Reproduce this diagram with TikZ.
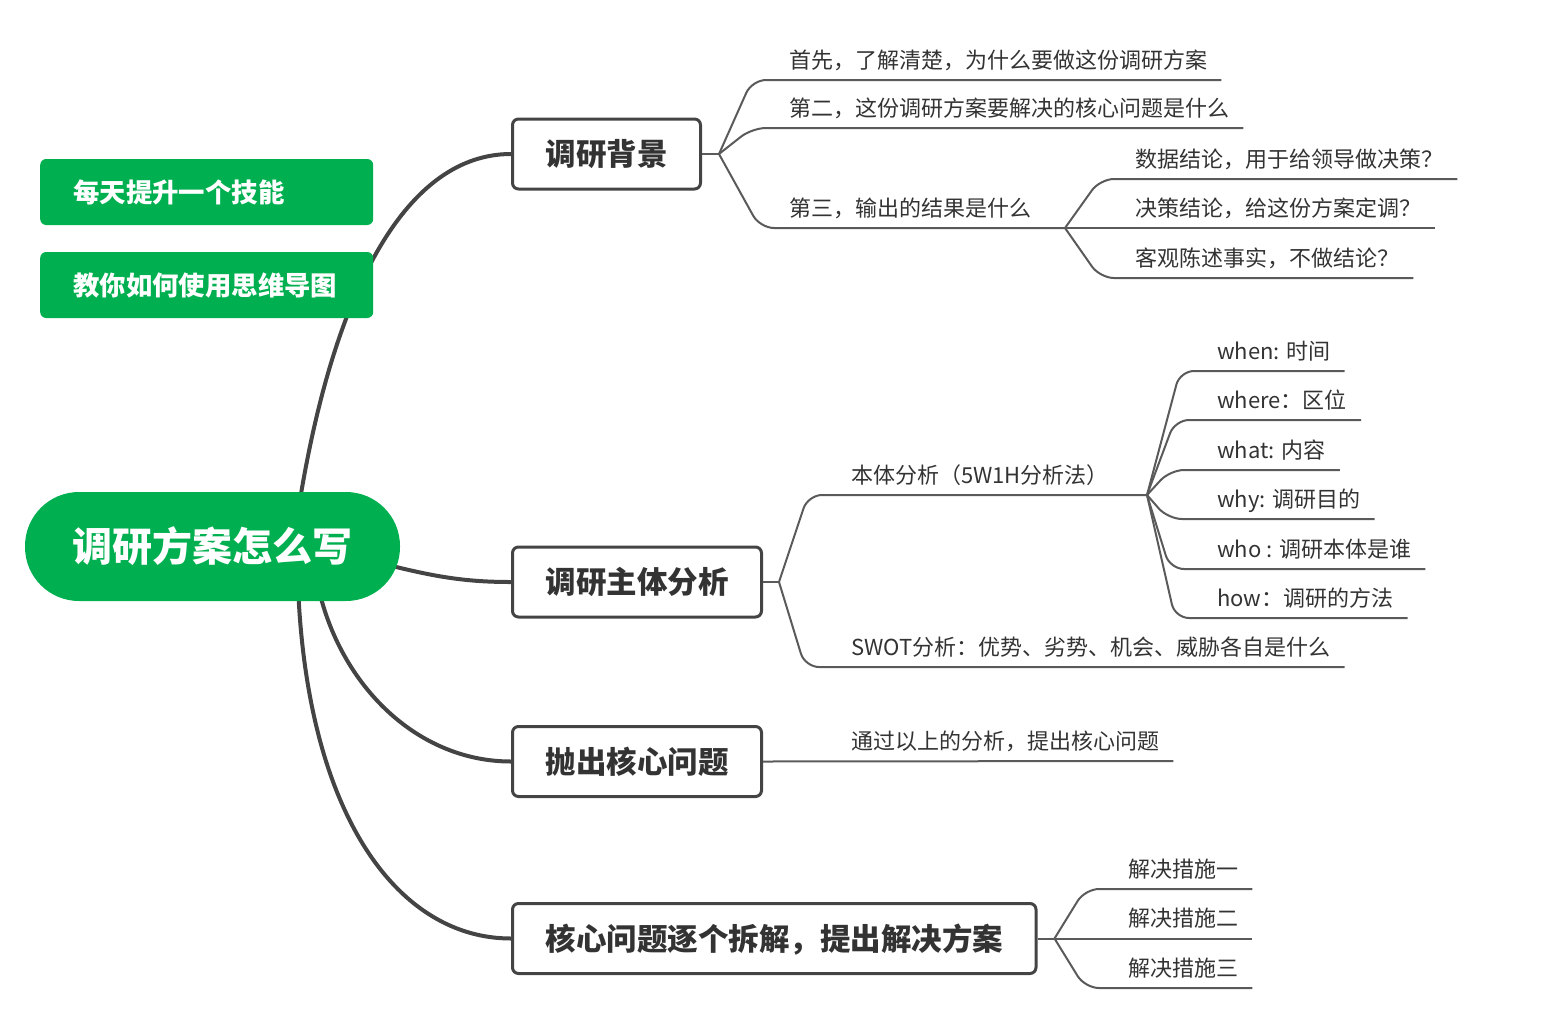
\documentclass[tikz,border=0pt]{standalone}
\usepackage{fontspec}
\setmainfont{Noto Sans CJK SC}
\usetikzlibrary{backgrounds}
\definecolor{mmgreen}{RGB}{0,176,80}
\definecolor{mmdark}{RGB}{51,51,51}
\definecolor{mmline}{RGB}{68,68,68}
\definecolor{mmsub}{RGB}{90,90,90}

\begin{document}
\begin{tikzpicture}[x=1pt,y=1pt]
	\tikzset{
		root node/.style={rectangle, rounded corners=54pt, fill=mmgreen, text=white, minimum width=375pt, minimum height=109pt, font=\fontsize{40}{48}\selectfont\bfseries, text height=34.4pt, text depth=4pt},
		tag node/.style={rectangle, rounded corners=6pt, fill=mmgreen, text=white, anchor=west, minimum height=66pt, text width=267pt, inner xsep=33pt, align=left, font=\fontsize{26.4}{32}\selectfont\bfseries, text height=22.7pt, text depth=2.6pt},
		topic node/.style={rectangle, rounded corners=6pt, draw=mmline, line width=3pt, fill=white, text=mmdark, anchor=west, minimum height=70pt, inner xsep=33pt, font=\fontsize{30.5}{36}\selectfont\bfseries, text height=26.2pt, text depth=3pt},
		leaf/.style={anchor=south west, inner xsep=14pt, inner ysep=2.5pt, text=mmdark, font=\fontsize{22}{26}\selectfont, text height=16pt, text depth=9pt},
		branch/.style={line width=4pt, mmline},
		stub/.style={line width=2pt, mmsub},
		sub/.style={line width=2pt, mmsub, rounded corners=14pt}
	}
	\useasboundingbox (0,0) rectangle (1548,-1021);

	% Central topic and tags
	\node[root node] (root) at (212.5,-546.5) {调研方案怎么写};
	\node[tag node] (tagA) at (40,-192) {每天提升一个技能};
	\node[tag node] (tagB) at (40,-285) {教你如何使用思维导图};

	% Main topics
	\node[topic node] (bg) at (511,-154) {调研背景};
	\node[topic node] (body) at (511,-582) {调研主体分析};
	\node[topic node] (core) at (511,-761.5) {抛出核心问题};
	\node[topic node] (solve) at (511,-938.5) {核心问题逐个拆解，提出解决方案};

	\begin{scope}[on background layer]
		\draw[branch] ([xshift=88pt,yshift=-5pt]root.north) .. controls (336,-285) and (408,-154) .. (bg.west);
		\draw[branch] ([xshift=-10pt,yshift=-19pt]root.east) .. controls (440,-578) and (470,-582) .. (body.west);
		\draw[branch] ([xshift=108pt,yshift=5pt]root.south) .. controls (345,-690) and (420,-761.5) .. (core.west);
		\draw[branch] ([xshift=86pt,yshift=5pt]root.south) .. controls (310,-820) and (400,-938.5) .. (solve.west);
	\end{scope}

	% Background
	\coordinate (fA) at ([xshift=17pt]bg.east);
	\coordinate (fC) at (1065,-228);
	\node[leaf] (bg1) at (775,-80) {首先，了解清楚，为什么要做这份调研方案};
	\node[leaf] (bg2) at (775,-128) {第二，这份调研方案要解决的核心问题是什么};
	\node[leaf] (bg3) at (775,-228) {第三，输出的结果是什么};
	\draw[stub] (bg.east) -- (fA);
	\foreach \n in {bg1, bg2}
		\draw[sub] (fA) -- ([xshift=-23pt]\n.south west) -- (\n.south east);
	\draw[sub] (fA) -- ([xshift=-15pt]bg3.south west) -- (fC);

	\node[leaf] (out1) at (1121,-179) {数据结论，用于给领导做决策？};
	\node[leaf] (out2) at (1121,-228) {决策结论，给这份方案定调？};
	\node[leaf] (out3) at (1121,-278) {客观陈述事实，不做结论？};
	\draw[sub] (fC) -- ([xshift=-21pt]out1.south west) -- (out1.south east);
	\draw[sub] (fC) -- (out2.south east);
	\draw[sub] (fC) -- ([xshift=-21pt]out3.south west) -- (out3.south east);

	% Subject analysis
	\coordinate (fB) at ([xshift=16pt]body.east);
	\coordinate (fD) at (1147,-495);
	\node[leaf] (body1) at (837,-495) {本体分析（5W1H分析法）};
	\node[leaf] (body2) at (837,-667) {SWOT分析：优势、劣势、机会、威胁各自是什么};
	\draw[stub] (body.east) -- (fB);
	\draw[sub] (fB) -- ([xshift=-29pt]body1.south west) -- (fD);
	\draw[sub] (fB) -- ([xshift=-32pt]body2.south west) -- (body2.south east);

	\foreach \n/\y/\s/\txt in {w1/371/23/{when: 时间}, w2/420/28/{where：区位}, w3/470/33/{what: 内容}, w4/519/35/{why: 调研目的}, w5/569/33/{who : 调研本体是谁}, w6/618/28/{how：调研的方法}} {
		\node[leaf] (\n) at (1203,-\y) {\txt};
		\draw[sub] (fD) -- ([xshift=-\s pt]\n.south west) -- (\n.south east);
	}

	% Core question
	\node[leaf] (core1) at (837,-761) {通过以上的分析，提出核心问题};
	\draw[sub] (core.east) -- (core1.south east);

	% Solutions
	\coordinate (fE) at ([xshift=17pt]solve.east);
	\node[leaf] (sol2) at (1114,-938.5) {解决措施二};
	\draw[stub] (solve.east) -- (fE);
	\draw[sub] (fE) -- (sol2.south east);
	\foreach \n/\y/\txt in {sol1/889/解决措施一, sol3/988/解决措施三} {
		\node[leaf] (\n) at (1114,-\y) {\txt};
		\draw[sub] (fE) -- ([xshift=-29pt]\n.south west) -- (\n.south east);
	}
\end{tikzpicture}
\end{document}
